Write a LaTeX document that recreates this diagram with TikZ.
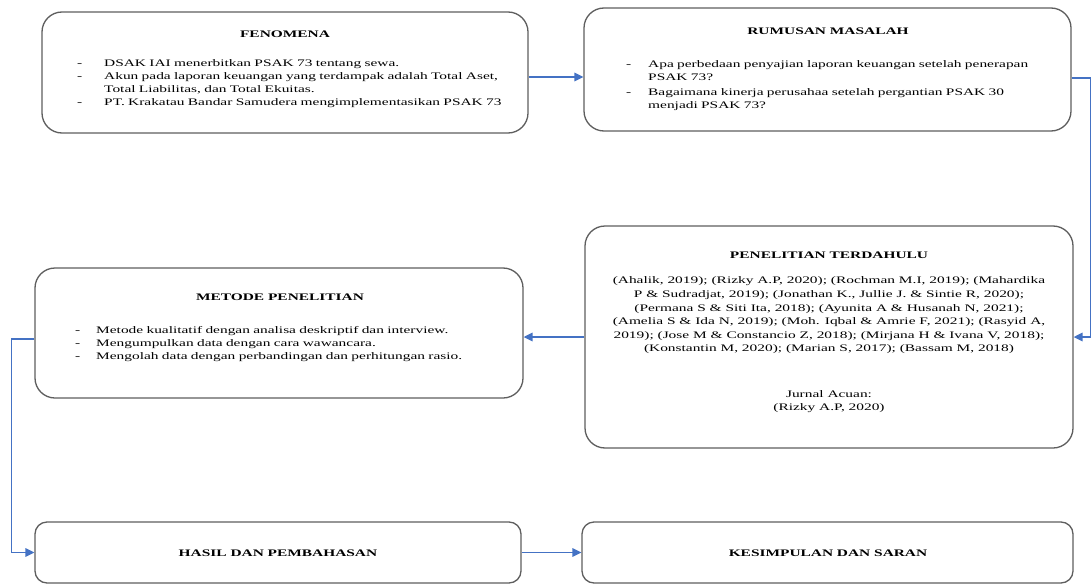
\documentclass[tikz,border=0pt]{standalone}
\usepackage{fontspec}
\setmainfont[FakeStretch=1.54]{Liberation Serif}
\usetikzlibrary{arrows.meta}
\definecolor{bordergray}{HTML}{5E5E5E}
\definecolor{arrowblue}{HTML}{4472C4}
\newcommand{\dashline}[2][24pt]{\par\noindent\makebox[#1][l]{-}#2\par}
\newcommand{\contline}[2][24pt]{\par\noindent\hspace*{#1}#2\par}
\tikzset{
  box/.style={draw=bordergray, line width=1.3pt, rounded corners=20pt, inner sep=0pt, fill=white},
  smallbox/.style={box, rounded corners=12pt},
  ttl/.style={font=\fontsize{10}{12}\selectfont\bfseries, inner sep=0pt},
  txt/.style={font=\fontsize{10}{12.7}\selectfont, inner sep=0pt},
  arr/.style={draw=arrowblue, line width=1.6pt, -{Triangle[length=9pt,width=8.5pt]}}
}
\begin{document}
\begin{tikzpicture}[x=1pt,y=-1pt]
\useasboundingbox[fill=white] (0,0) rectangle (1092,586);
% boxes
\node[box, minimum width=486pt, minimum height=121pt] (fen) at (285,72.5) {};
\node[box, minimum width=487pt, minimum height=123pt] (rum) at (827.5,69.5) {};
\node[box, minimum width=488pt, minimum height=222pt] (pen) at (829,337) {};
\node[box, minimum width=488pt, minimum height=130pt] (met) at (279,333) {};
\node[smallbox, minimum width=486pt, minimum height=61pt] (has) at (278,552.5) {};
\node[smallbox, minimum width=491pt, minimum height=61pt] (kes) at (827.5,552.5) {};
% titles
\node[ttl] (fent) at (285,34) {FENOMENA};
\node[ttl] (rumt) at (828,31) {RUMUSAN MASALAH};
\node[ttl] (pent) at (829,255) {PENELITIAN TERDAHULU};
\node[ttl] (mett) at (280,297) {METODE PENELITIAN};
\node[ttl] (hast) at (278,553) {HASIL DAN PEMBAHASAN};
\node[ttl] (kest) at (828,553) {KESIMPULAN DAN SARAN};
% body texts
\node[txt, anchor=north west, text width=450pt] (fenb) at (77,54) {%
\dashline[27pt]{DSAK IAI menerbitkan PSAK 73 tentang sewa.}
\dashline[27pt]{Akun pada laporan keuangan yang terdampak adalah Total Aset,}
\contline[27pt]{Total Liabilitas, dan Total Ekuitas.}
\dashline[27pt]{PT. Krakatau Bandar Samudera mengimplementasikan PSAK 73}};
\node[txt, anchor=north west, text width=440pt] (rumb) at (626,55) {%
\dashline[22pt]{Apa perbedaan penyajian laporan keuangan setelah penerapan}
\contline[22pt]{PSAK 73?}\vspace{2.5pt}
\dashline[22pt]{Bagaimana kinerja perusahaa setelah pergantian PSAK 30}
\contline[22pt]{menjadi PSAK 73?}};
\node[txt, align=center, font=\fontsize{10}{13.6}\selectfont] (penb) at (829,315.5) {%
(Ahalik, 2019); (Rizky A.P, 2020); (Rochman M.I, 2019); (Mahardika\\
P \& Sudradjat, 2019); (Jonathan K., Jullie J. \& Sintie R, 2020);\\
(Permana S \& Siti Ita, 2018); (Ayunita A \& Husanah N, 2021);\\
(Amelia S \& Ida N, 2019); (Moh. Iqbal \& Amrie F, 2021); (Rasyid A,\\
2019); (Jose M \& Constancio Z, 2018); (Mirjana H \& Ivana V, 2018);\\
(Konstantin M, 2020); (Marian S, 2017); (Bassam M, 2018)};
\node[txt, align=center, font=\fontsize{10}{13}\selectfont] (penj) at (829,402) {Jurnal Acuan:\\(Rizky A.P, 2020)};
\node[txt, anchor=north west, text width=440pt] (metb) at (75,321) {%
\dashline[21pt]{Metode kualitatif dengan analisa deskriptif dan interview.}
\dashline[21pt]{Mengumpulkan data dengan cara wawancara.}
\dashline[21pt]{Mengolah data dengan perbandingan dan perhitungan rasio.}};
% connectors
\draw[arr] ([yshift=-4.5pt]fen.east) -- ([yshift=-7.5pt]rum.west);
\coordinate (rc) at ([xshift=19pt,yshift=-8.5pt]rum.east);
\draw[arr] ([yshift=-8.5pt]rum.east) -- (rc) |- (pen.east);
\draw[arr] (pen.west) -- (met.east |- pen.west);
\coordinate (lc) at ([xshift=-23pt,yshift=-6pt]met.west);
\draw[arr] ([yshift=-6pt]met.west) -- (lc) |- (has.west);
\draw[arr] (has.east) -- (kes.west);
\end{tikzpicture}
\end{document}
